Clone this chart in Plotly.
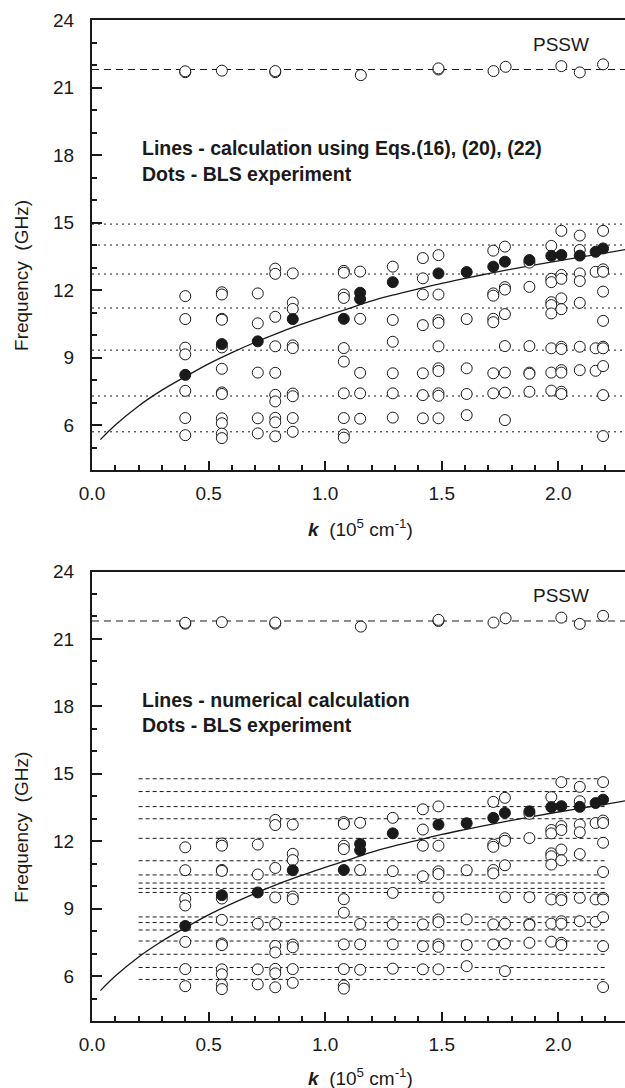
import plotly.graph_objects as go

# ---------------- data ----------------
pssw_level = 21.8
pssw_k = [0.40, 0.40, 0.557, 0.786, 0.786, 1.153, 1.486, 1.486, 1.722, 1.774, 2.013, 2.092, 2.192]
pssw_f = [21.68, 21.72, 21.75, 21.68, 21.73, 21.55, 21.80, 21.85, 21.73, 21.92, 21.95, 21.67, 22.03]

open_k = (
    [0.40] * 7 + [0.557] * 12 + [0.711] * 5 + [0.786] * 10 + [0.861] * 9 +
    [1.08] * 10 + [1.15] * 5 + [1.29] * 6 + [1.419] * 7 + [1.486] * 10 +
    [1.607] * 4 + [1.721] * 7 + [1.771] * 8 + [1.876] * 6 + [1.97] * 9 +
    [2.013] * 11 + [2.092] * 7 + [2.16] * 3 + [2.192] * 10
)
open_f = (
    [11.73, 10.71, 9.44, 9.14, 7.52, 6.31, 5.55] +
    [11.90, 11.80, 10.72, 10.68, 9.45, 8.50, 7.45, 7.38, 6.30, 6.08, 5.62, 5.42] +
    [11.85, 10.52, 8.33, 6.30, 5.63] +
    [12.95, 12.72, 10.81, 9.50, 8.32, 7.34, 7.05, 6.32, 6.12, 5.50] +
    [12.74, 11.44, 11.16, 9.54, 9.42, 7.40, 7.28, 6.31, 5.70] +
    [12.85, 12.77, 11.80, 11.65, 9.42, 8.82, 7.41, 6.31, 5.58, 5.44] +
    [12.82, 10.72, 8.32, 7.41, 6.28] +
    [13.04, 10.67, 9.70, 8.30, 7.41, 6.33] +
    [13.42, 12.52, 11.80, 10.44, 8.30, 7.33, 6.30] +
    [13.55, 11.80, 10.66, 10.54, 9.50, 8.52, 8.40, 7.41, 7.30, 6.30] +
    [10.71, 8.52, 7.38, 6.44] +
    [13.75, 11.85, 11.75, 10.72, 10.57, 8.30, 7.41] +
    [13.93, 12.13, 12.02, 10.93, 9.51, 8.33, 7.44, 6.22] +
    [13.22, 12.14, 9.51, 8.33, 8.28, 7.48] +
    [13.96, 12.50, 12.35, 11.46, 11.33, 10.96, 9.41, 8.33, 7.53] +
    [14.63, 12.67, 12.50, 11.63, 11.15, 9.48, 9.38, 8.44, 8.33, 7.48, 7.38] +
    [14.42, 13.78, 12.74, 12.40, 11.43, 9.48, 8.44] +
    [12.81, 9.41, 8.41] +
    [14.63, 12.92, 12.81, 11.93, 10.63, 9.48, 9.41, 8.62, 7.33, 5.51]
)

filled_k = [0.40, 0.557, 0.711, 0.861, 1.08, 1.15, 1.15, 1.29, 1.486, 1.607,
            1.721, 1.771, 1.876, 1.97, 2.013, 2.092, 2.16, 2.192]
filled_f = [8.23, 9.60, 9.72, 10.71, 10.72, 11.88, 11.60, 12.35, 12.74, 12.80,
            13.04, 13.26, 13.33, 13.52, 13.56, 13.53, 13.70, 13.85]

curve_k = [0.036, 0.1, 0.2, 0.3, 0.4, 0.5, 0.6, 0.7, 0.8, 0.9, 1.0, 1.1, 1.2,
           1.3, 1.4, 1.5, 1.6, 1.7, 1.8, 1.9, 2.0, 2.1, 2.2, 2.29]
curve_f = [5.35, 6.00, 6.85, 7.55, 8.15, 8.72, 9.22, 9.68, 10.10, 10.48, 10.84,
           11.17, 11.52, 11.80, 12.05, 12.30, 12.52, 12.73, 12.93, 13.12, 13.30,
           13.47, 13.64, 13.80]

top_levels = [14.93, 14.0, 12.71, 11.2, 9.33, 7.29, 5.70]
bottom_levels = [14.78, 14.21, 13.54, 13.0, 12.13, 11.13, 10.5, 10.14, 9.9, 9.72,
                 8.63, 8.38, 8.05, 7.56, 6.97, 6.38, 5.85]
bottom_line_k = [0.2, 2.2]
full_line_k = [0.0, 2.3]

x_ticks = [0.0, 0.5, 1.0, 1.5, 2.0]
y_ticks = [6, 9, 12, 15, 18, 21, 24]

text_top = ["Lines - calculation using Eqs.(16), (20), (22)", "Dots - BLS experiment"]
text_bot = ["Lines - numerical calculation", "Dots - BLS experiment"]

# ---------------- figure ----------------
FONT = "Liberation Sans, Arial, Helvetica, sans-serif"
INK = "#1a1a1a"

fig = go.Figure()


def hlines(levels, krange):
    xs, ys = [], []
    for lv in levels:
        xs += [krange[0], krange[1], None]
        ys += [lv, lv, None]
    return xs, ys


def add_panel(xa, ya, levels, lvl_range, lvl_dash):
    fig.add_trace(go.Scatter(x=full_line_k, y=[pssw_level, pssw_level], mode="lines",
                             line=dict(color=INK, width=1, dash="7px,5px"),
                             xaxis=xa, yaxis=ya, hoverinfo="skip", showlegend=False))
    xs, ys = hlines(levels, lvl_range)
    fig.add_trace(go.Scatter(x=xs, y=ys, mode="lines",
                             line=dict(color=INK, width=1, dash=lvl_dash),
                             xaxis=xa, yaxis=ya, hoverinfo="skip", showlegend=False))
    fig.add_trace(go.Scatter(x=curve_k, y=curve_f, mode="lines", line_shape="spline",
                             line=dict(color=INK, width=1.3),
                             xaxis=xa, yaxis=ya, hoverinfo="skip", showlegend=False))
    fig.add_trace(go.Scatter(x=open_k + pssw_k, y=open_f + pssw_f, mode="markers",
                             marker=dict(size=11, color="white", line=dict(color=INK, width=1)),
                             xaxis=xa, yaxis=ya, showlegend=False))
    fig.add_trace(go.Scatter(x=filled_k, y=filled_f, mode="markers",
                             marker=dict(size=11, color=INK, line=dict(color=INK, width=1)),
                             xaxis=xa, yaxis=ya, showlegend=False))


add_panel("x", "y", top_levels, full_line_k, "2px,4px")
add_panel("x2", "y2", bottom_levels, bottom_line_k, "4px,3px")

xcommon = dict(range=[0, 2.286], tickvals=x_ticks, ticktext=[f"{v:.1f}" for v in x_ticks],
               ticks="inside", ticklen=9, tickwidth=1.5, tickcolor=INK,
               showline=True, linewidth=2, linecolor=INK, mirror=True,
               showgrid=False, zeroline=False, ticklabelstandoff=5,
               tickfont=dict(family=FONT, size=19, color=INK),
               minor=dict(dtick=0.1, tick0=0, ticks="inside", ticklen=5, tickwidth=1.5,
                          tickcolor=INK, showgrid=False))
ycommon = dict(range=[4, 24], tickvals=y_ticks, ticks="inside", ticklen=10, tickwidth=1.5,
               tickcolor=INK, showline=True, linewidth=2, linecolor=INK, mirror=False,
               showgrid=False, zeroline=False, ticklabelstandoff=12,
               tickfont=dict(family=FONT, size=19, color=INK),
               minor=dict(dtick=1, tick0=0, ticks="inside", ticklen=5, tickwidth=1.5,
                          tickcolor=INK, showgrid=False))

fig.update_layout(
    width=625, height=1088,
    margin=dict(l=92, r=0, t=20, b=67),
    paper_bgcolor="white", plot_bgcolor="white",
    font=dict(family=FONT, size=19, color=INK),
    xaxis=dict(domain=[0, 1], anchor="y", **xcommon),
    yaxis=dict(domain=[0.5504, 1], anchor="x", **ycommon),
    xaxis2=dict(domain=[0, 1], anchor="y2", **xcommon),
    yaxis2=dict(domain=[0, 0.449], anchor="x2", **ycommon),
)

annotations = []
for xr, yr, lines, ytitle_y, xtitle_y in [("x", "y", text_top, 0.7443, 0.4925),
                                          ("x2", "y2", text_bot, 0.1931, -0.0556)]:
    annotations.append(dict(x=0.207, y=18.29, xref=xr, yref=yr, text="<b>" + lines[0] + "</b>",
                            showarrow=False, xanchor="left", yanchor="middle",
                            font=dict(family=FONT, size=19.5, color=INK)))
    annotations.append(dict(x=0.207, y=17.15, xref=xr, yref=yr, text="<b>" + lines[1] + "</b>",
                            showarrow=False, xanchor="left", yanchor="middle",
                            font=dict(family=FONT, size=19.5, color=INK)))
    annotations.append(dict(x=2.013, y=22.93, xref=xr, yref=yr, text="PSSW",
                            showarrow=False, xanchor="center", yanchor="middle",
                            font=dict(family=FONT, size=19, color=INK)))
    annotations.append(dict(x=0, y=ytitle_y, xref="paper", yref="paper", xshift=-70,
                            text="Frequency  (GHz)", textangle=-90, showarrow=False,
                            xanchor="center", yanchor="middle",
                            font=dict(family=FONT, size=19, color=INK)))
    annotations.append(dict(x=0.503, y=xtitle_y, xref="paper", yref="paper",
                            text="<b><i>k</i></b>  (10<sup>5</sup> cm<sup>-1</sup>)",
                            showarrow=False, xanchor="center", yanchor="middle",
                            font=dict(family=FONT, size=19, color=INK)))
fig.update_layout(annotations=annotations)

fig.write_html("out.html",
               config={"displayModeBar": False},
               post_script="document.body.style.margin='0';document.body.style.padding='0';")
